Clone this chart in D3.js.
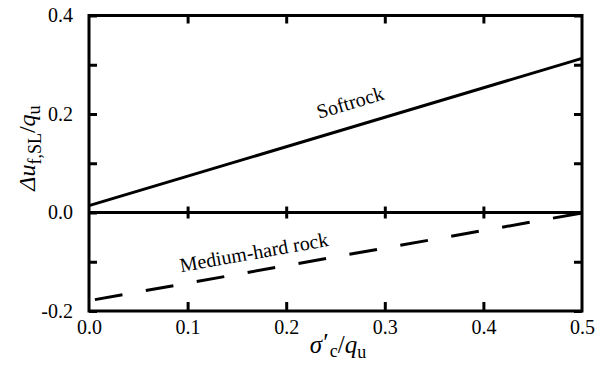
<!DOCTYPE html>
<html>
<head>
<meta charset="utf-8">
<script src="https://cdn.jsdelivr.net/npm/d3@7"></script>
</head>
<body style="margin:0">
<svg id="fig" width="603" height="370"></svg>
<script>
// Normalised excess pore pressure at failure vs. normalised confining stress
const xDomain = [0, 0.5];
const yDomain = [-0.2, 0.4];
const xTicks = [0, 0.1, 0.2, 0.3, 0.4, 0.5];
const xTickLabels = ["0.0", "0.1", "0.2", "0.3", "0.4", "0.5"];
const yTicks = [-0.2, -0.1, 0, 0.1, 0.2, 0.3, 0.4];
const yLabelled = [-0.2, 0, 0.2, 0.4];
const yTickLabels = ["-0.2", "0.0", "0.2", "0.4"];

// Two rock types, each a straight line between its end values
const softX = [0, 0.5];
const softY = [0.014, 0.313];
const mediumX = [0, 0.5];
const mediumY = [-0.179, -0.001];
const softLabel = "Softrock";
const mediumLabel = "Medium-hard rock";

const SERIF = "Liberation Serif";
const svg = d3.select("#fig");
const m = { left: 89, right: 582, top: 15.5, bottom: 311 };

const x = d3.scaleLinear().domain(xDomain).range([m.left, m.right]);
const y = d3.scaleLinear().domain(yDomain).range([m.bottom, m.top]);

const inner = xTicks.filter(v => v > xDomain[0] && v < xDomain[1]);

function serif(sel) {
  sel.style("font-family", SERIF, "important");
}

function styleAxis(g) {
  g.attr("font-family", null);
  g.select(".domain").remove();
  g.selectAll(".tick line").attr("stroke", "#000").attr("stroke-width", 3);
  g.selectAll(".tick text").attr("fill", "#000").attr("font-size", 20).call(serif);
}

// Bottom axis with labels, ticks pointing inward
svg.append("g")
  .attr("transform", `translate(0,${m.bottom})`)
  .call(d3.axisBottom(x).tickValues(xTicks).tickSizeInner(-9).tickSizeOuter(0).tickPadding(9)
    .tickFormat((d, i) => xTickLabels[i]))
  .call(styleAxis)
  .call(g => g.selectAll(".tick line").filter(d => d === 0 || d === 0.5).remove());

// Top axis, ticks only
svg.append("g")
  .attr("transform", `translate(0,${m.top})`)
  .call(d3.axisTop(x).tickValues(inner).tickSizeInner(-8).tickSizeOuter(0).tickFormat(""))
  .call(styleAxis);

// Left axis with labels
svg.append("g")
  .attr("transform", `translate(${m.left},0)`)
  .call(d3.axisLeft(y).tickValues(yTicks).tickSizeInner(-8).tickSizeOuter(0).tickPadding(16)
    .tickFormat(d => {
      const k = yLabelled.findIndex(v => Math.abs(v - d) < 1e-9);
      return k >= 0 ? yTickLabels[k] : "";
    }))
  .call(styleAxis);

// Right axis, ticks only
svg.append("g")
  .attr("transform", `translate(${m.right},0)`)
  .call(d3.axisRight(y).tickValues(yTicks).tickSizeInner(-8).tickSizeOuter(0).tickFormat(""))
  .call(styleAxis);

// Zero line with ticks crossing it
[d3.axisBottom, d3.axisTop].forEach(ax => {
  svg.append("g")
    .attr("transform", `translate(0,${y(0)})`)
    .call(ax(x).tickValues(inner).tickSizeInner(6).tickSizeOuter(0).tickFormat(""))
    .call(styleAxis);
});
svg.append("line")
  .attr("x1", x(xDomain[0])).attr("x2", x(xDomain[1]))
  .attr("y1", y(0)).attr("y2", y(0))
  .attr("stroke", "#000").attr("stroke-width", 3);

// Frame
svg.append("rect")
  .attr("x", m.left).attr("y", m.top)
  .attr("width", m.right - m.left).attr("height", m.bottom - m.top)
  .attr("fill", "none").attr("stroke", "#000").attr("stroke-width", 3);

// Lines
const line = d3.line().x(d => x(d[0])).y(d => y(d[1]));
svg.append("path")
  .datum(softX.map((v, i) => [v, softY[i]]))
  .attr("d", line).attr("fill", "none").attr("stroke", "#000").attr("stroke-width", 3);
svg.append("path")
  .datum(mediumX.map((v, i) => [v, mediumY[i]]))
  .attr("d", line).attr("fill", "none").attr("stroke", "#000").attr("stroke-width", 3)
  .attr("stroke-dasharray", "28,23.7").attr("stroke-dashoffset", -6);

// Line labels, rotated along their lines
function angleOf(xs, ys) {
  const dx = x(xs[1]) - x(xs[0]);
  const dy = y(ys[1]) - y(ys[0]);
  return Math.atan2(dy, dx) * 180 / Math.PI;
}
svg.append("text")
  .attr("transform", `translate(352,109) rotate(${angleOf(softX, softY)})`)
  .call(serif)
  .attr("text-anchor", "middle").attr("font-size", 20).text(softLabel);
svg.append("text")
  .attr("transform", `translate(255,259) rotate(${angleOf(mediumX, mediumY)})`)
  .call(serif)
  .attr("text-anchor", "middle").attr("font-size", 20).text(mediumLabel);

// Axis titles
const xt = svg.append("text")
  .attr("x", 338).attr("y", 353)
  .call(serif)
  .attr("text-anchor", "middle").attr("font-size", 25);
xt.append("tspan").attr("font-style", "italic").text("σ");
xt.append("tspan").attr("dy", -2).attr("dx", 1).text("\u2032");
xt.append("tspan").attr("font-size", 18).attr("dy", 6).attr("dx", 1).text("c");
xt.append("tspan").attr("dy", -4).text("/");
xt.append("tspan").attr("font-style", "italic").text("q");
xt.append("tspan").attr("font-size", 18).attr("dy", 5).text("u");

const yt = svg.append("text")
  .attr("transform", "translate(35,148) rotate(-90)")
  .call(serif)
  .attr("text-anchor", "middle").attr("font-size", 24);
yt.append("tspan").attr("font-style", "italic").text("Δu");
yt.append("tspan").attr("font-size", 18).attr("dy", 6).text("f,SL");
yt.append("tspan").attr("dy", -6).text("/");
yt.append("tspan").attr("font-style", "italic").text("q");
yt.append("tspan").attr("font-size", 18).attr("dy", 5).text("u");
</script>
</body>
</html>
